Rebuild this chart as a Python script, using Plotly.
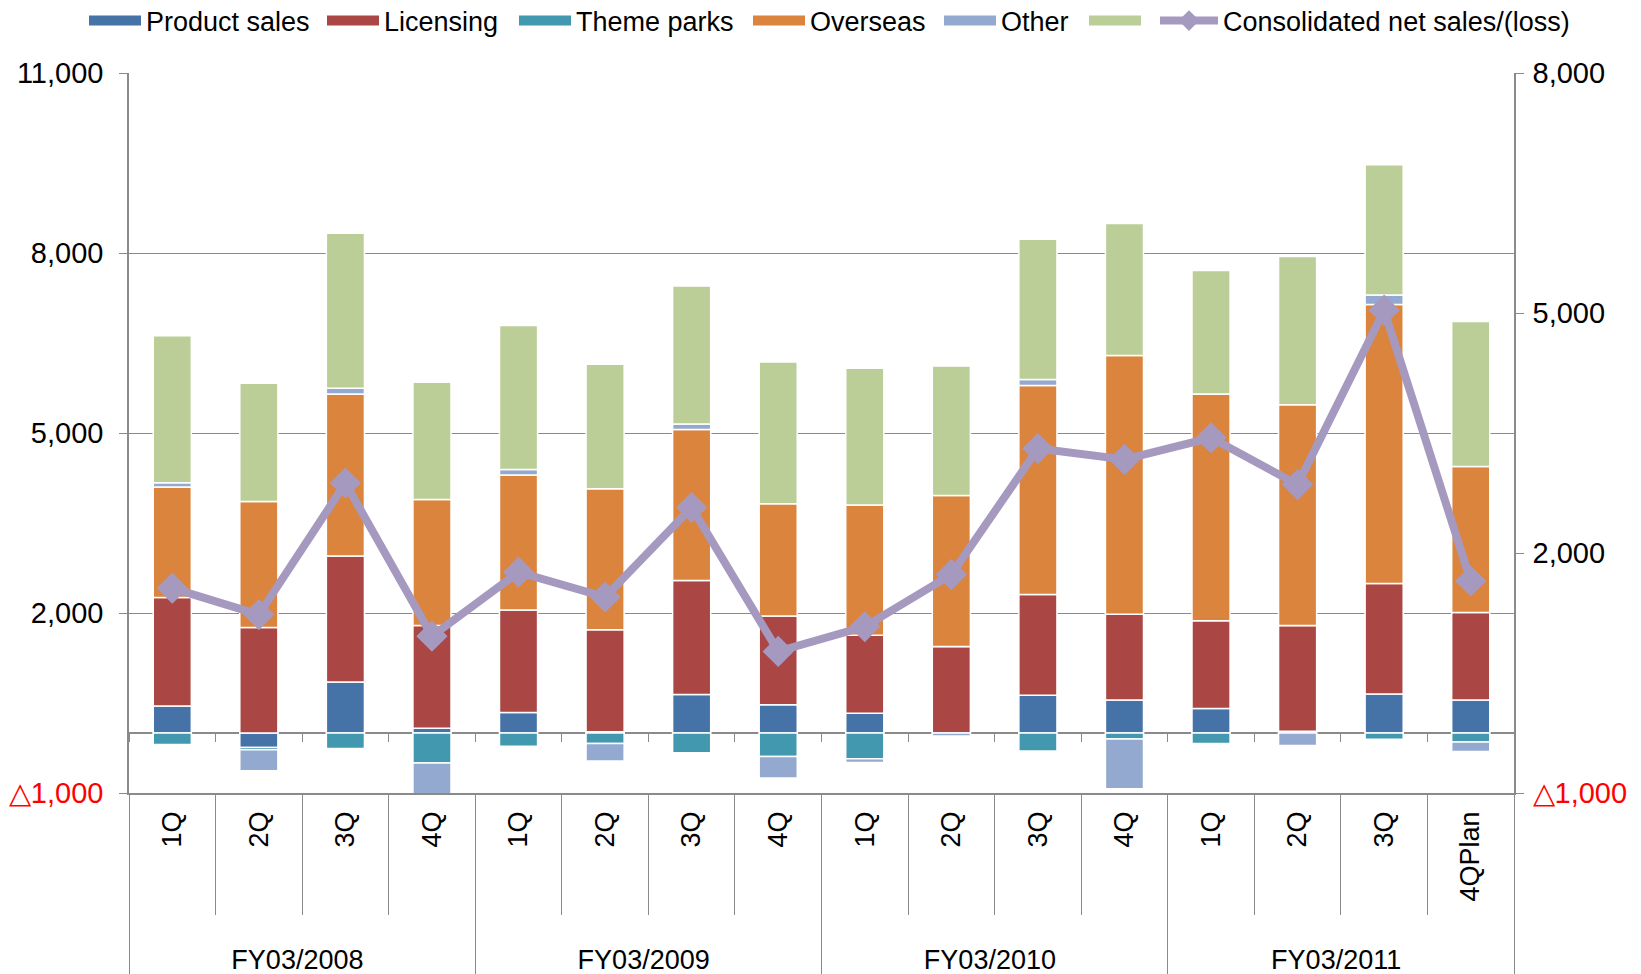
import plotly.graph_objects as go

fiscal_years = ["FY03/2008", "FY03/2008", "FY03/2008", "FY03/2008",
                "FY03/2009", "FY03/2009", "FY03/2009", "FY03/2009",
                "FY03/2010", "FY03/2010", "FY03/2010", "FY03/2010",
                "FY03/2011", "FY03/2011", "FY03/2011", "FY03/2011"]
quarters = ["1Q", "2Q", "3Q", "4Q",
            "1Q", "2Q", "3Q", "4Q",
            "1Q", "2Q", "3Q", "4Q",
            "1Q", "2Q", "3Q", "4QPlan"]

product_sales = [450, -240, 850, 80, 340, 20, 640, 470, 330, 0, 630, 550, 410, 30, 650, 550]
licensing = [1810, 1760, 2100, 1710, 1710, 1700, 1900, 1480, 1300, 1440, 1680, 1430, 1460, 1760, 1840, 1460]
theme_parks = [-190, -40, -260, -500, -220, -175, -330, -390, -430, 0, -300, -100, -175, 0, -105, -150]
overseas = [1840, 2100, 2700, 2100, 2250, 2350, 2520, 1870, 2170, 2520, 3480, 4310, 3780, 3680, 4650, 2430]
other = [70, -350, 95, -560, 90, -290, 90, -360, -60, -50, 100, -830, 0, -210, 160, -160]
unlabeled = [2450, 1970, 2585, 1955, 2400, 2075, 2300, 2365, 2280, 2155, 2340, 2200, 2060, 2470, 2170, 2420]
consolidated = [1560, 1230, 2875, 960, 1760, 1450, 2570, 770, 1080, 1730, 3305, 3170, 3440, 2855, 5035, 1650]

left_ticks = [-1000, 2000, 5000, 8000, 11000]
left_labels = ["<span style='color:red'>△1,000</span>", "2,000", "5,000", "8,000", "11,000"]
right_ticks = [-1000, 2000, 5000, 8000]
right_labels = ["<span style='color:red'>△1,000</span>", "2,000", "5,000", "8,000"]

series = [
    ("Product sales", product_sales, "#4572A7"),
    ("Licensing", licensing, "#AA4643"),
    ("Theme parks", theme_parks, "#4198AF"),
    ("Overseas", overseas, "#DB843D"),
    ("Other", other, "#93A9CF"),
    ("", unlabeled, "#BBCE97"),
]

# layout geometry (pixels)
W, H = 1641, 974
ML, MR, MT, MB = 129, 127, 73, 181
PW = W - ML - MR
PH = H - MT - MB
legend_px = [84, 322, 514, 748, 939, 1084, 1155]   # left edge of each legend entry
legend_y = 1 + (MT - 21) / PH
LEFT_MIN, LEFT_MAX = -1000, 11000

grey = "#8A8A8A"
# leading no-break spaces on the quarter labels leave room above the fiscal-year row
pad = "\u00a0\u00a0\u00a0"
x = [fiscal_years, [pad + q for q in quarters]]

fig = go.Figure()
for name, vals, color in series:
    fig.add_trace(go.Bar(
        x=x, y=vals, name=name, showlegend=False,
        marker=dict(color=color, line=dict(color="white", width=1.5)),
    ))

# legend keys (wide bars like the original legend)
for i, (name, vals, color) in enumerate(series):
    fig.add_trace(go.Scatter(
        x=[[x[0][0]], [x[1][0]]], y=[None], name=name, mode="lines",
        line=dict(color=color, width=11), hoverinfo="skip",
        legend="legend" if i == 0 else "legend%d" % (i + 1),
    ))

fig.add_trace(go.Scatter(
    x=x, y=consolidated, xaxis="x2", yaxis="y2", name="Consolidated net sales/(loss)",
    mode="lines+markers", legend="legend7",
    line=dict(color="#A699C0", width=8),
    marker=dict(symbol="diamond", size=24, color="#A699C0"),
))

legends = {}
for i, px in enumerate(legend_px):
    key = "legend" if i == 0 else "legend%d" % (i + 1)
    legends[key] = dict(orientation="h", x=(px - ML) / PW, xanchor="left",
                        y=legend_y, yanchor="middle", itemwidth=52 if i < 6 else 58,
                        font=dict(size=27), bgcolor="rgba(0,0,0,0)")

fig.update_layout(
    width=W, height=H,
    margin=dict(l=ML, r=MR, t=MT, b=MB, autoexpand=False),
    barmode="relative", bargap=0.56,
    plot_bgcolor="white", paper_bgcolor="white",
    font=dict(family="Liberation Sans, Arial, sans-serif", size=27, color="black"),
    xaxis=dict(type="multicategory", range=[-0.5, 15.5], tickangle=-90,
               ticks="outside", tickson="boundaries",
               ticklen=120, tickcolor=grey, tickwidth=1.3,
               showdividers=True, dividercolor=grey, dividerwidth=1.3,
               showline=True, linecolor=grey, linewidth=1.5,
               automargin=False, ticklabelstandoff=6, showgrid=False),
    # category axis drawn along the zero line, with its small boundary ticks
    xaxis2=dict(type="multicategory", overlaying="x", range=[-0.5, 15.5],
                anchor="free", position=(0 - LEFT_MIN) / (LEFT_MAX - LEFT_MIN),
                ticks="outside", tickson="boundaries", ticklen=8,
                tickcolor=grey, tickwidth=1.3, showticklabels=False,
                showdividers=False, showline=False, showgrid=False,
                automargin=False),
    yaxis=dict(range=[LEFT_MIN, LEFT_MAX], tickvals=left_ticks, ticktext=left_labels,
               tickfont=dict(size=29),
               showgrid=True, gridcolor=grey, gridwidth=1.3,
               zeroline=True, zerolinecolor=grey, zerolinewidth=1.5,
               showline=True, linecolor=grey, linewidth=1.5,
               ticks="outside", ticklen=8, tickcolor=grey, ticklabelstandoff=10,
               automargin=False),
    yaxis2=dict(overlaying="y", side="right", range=[-1000, 8000],
                tickvals=right_ticks, ticktext=right_labels,
                tickfont=dict(size=29),
                showgrid=False, zeroline=False,
                showline=True, linecolor=grey, linewidth=1.5,
                ticks="outside", ticklen=8, tickcolor=grey, ticklabelstandoff=3,
                automargin=False),
    **legends,
)

fig.write_html("out.html", config={"displayModeBar": False},
               post_script="document.body.style.margin='0px';")
